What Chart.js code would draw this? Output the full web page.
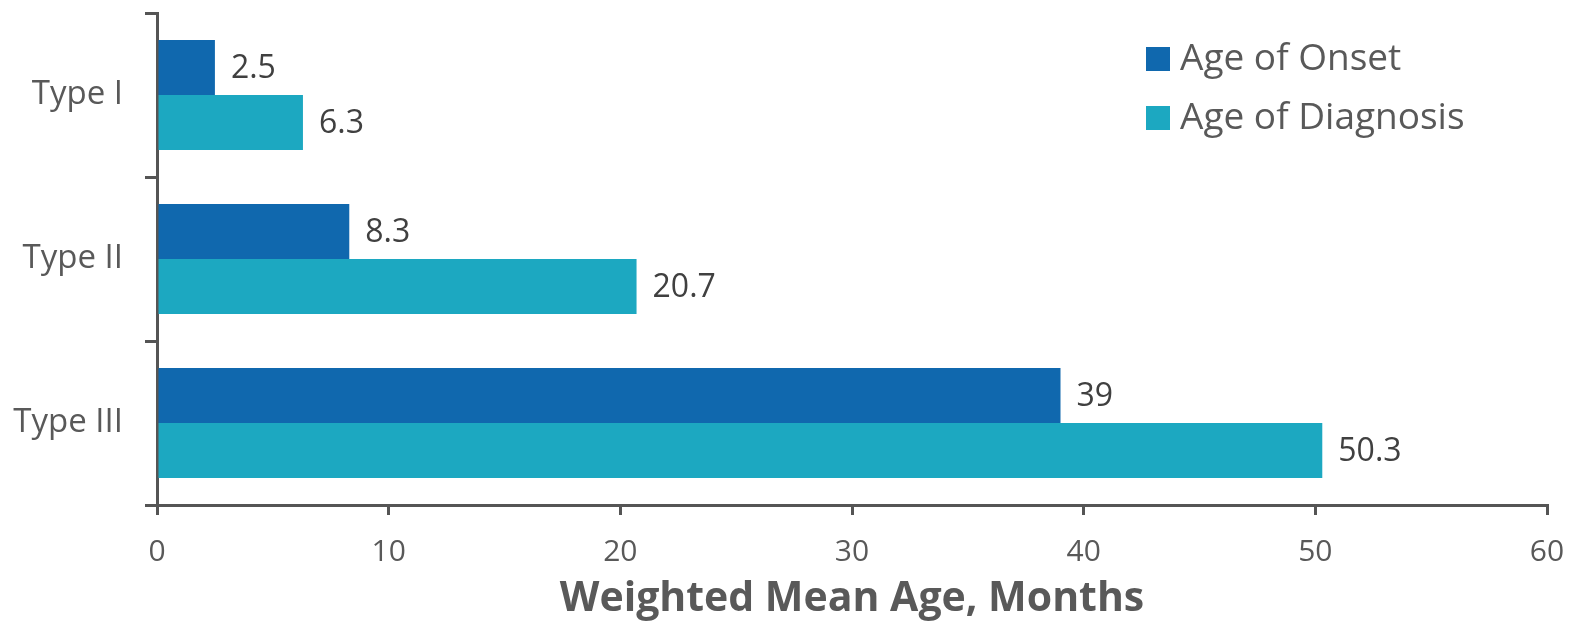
<!DOCTYPE html>
<html>
<head>
<meta charset="utf-8">
<script src="https://cdn.jsdelivr.net/npm/chart.js@4"></script>
<style>
    html, body { margin: 0; padding: 0; background: #fff; }
    #wrap { width: 1570px; height: 622px; }
</style>
</head>
<body>
<div id="wrap"><canvas id="ageChart" width="1570" height="622"></canvas></div>
<script>
const categories = ['Type I', 'Type II', 'Type III'];
const seriesNames = ['Age of Onset', 'Age of Diagnosis'];
const onsetAges = [2.5, 8.3, 39];
const diagnosisAges = [6.3, 20.7, 50.3];
const xTicks = [0, 10, 20, 30, 40, 50, 60];
const axisTitle = 'Weighted Mean Age, Months';

const axisColor = '#555555';
const textColor = '#595959';
const fontFamily = '"Open Sans", "Liberation Sans", sans-serif';

// no extra room for half labels, the layout padding handles it
function noEdgePadding(scale) {
    scale.paddingTop = 0;
    scale.paddingBottom = 0;
    scale.paddingLeft = 0;
    scale.paddingRight = 0;
}

// value labels at the end of each bar
const barLabels = {
    id: 'barLabels',
    afterDatasetsDraw(chart) {
        const ctx = chart.ctx;
        ctx.save();
        ctx.font = '32px ' + fontFamily;
        ctx.fillStyle = '#404040';
        ctx.textAlign = 'left';
        ctx.textBaseline = 'middle';
        chart.data.datasets.forEach((ds, i) => {
            chart.getDatasetMeta(i).data.forEach((bar, j) => {
                ctx.fillText(String(ds.data[j]), bar.x + 16, bar.y + 1);
            });
        });
        ctx.restore();
    }
};

// legend in the top right corner of the plot
const cornerLegend = {
    id: 'cornerLegend',
    afterDraw(chart) {
        const ctx = chart.ctx;
        ctx.save();
        ctx.font = '37px ' + fontFamily;
        ctx.textBaseline = 'middle';
        ctx.textAlign = 'left';
        chart.data.datasets.forEach((ds, i) => {
            const y = 59 + i * 59;
            ctx.fillStyle = ds.backgroundColor;
            ctx.fillRect(1146, y - 12, 24, 24);
            ctx.fillStyle = textColor;
            ctx.fillText(ds.label, 1180, y);
        });
        ctx.restore();
    }
};

const ctx = document.getElementById('ageChart').getContext('2d');
new Chart(ctx, {
    type: 'bar',
    data: {
        labels: categories,
        datasets: [{
            label: seriesNames[0],
            data: onsetAges,
            backgroundColor: '#1068ae'
        }, {
            label: seriesNames[1],
            data: diagnosisAges,
            backgroundColor: '#1ca8c1'
        }]
    },
    options: {
        indexAxis: 'y',
        responsive: false,
        animation: false,
        categoryPercentage: 0.67,
        barPercentage: 1.0,
        layout: {
            padding: { top: 13, right: 23, left: 0, bottom: 0 }
        },
        plugins: {
            legend: { display: false },
            tooltip: { enabled: false }
        },
        scales: {
            x: {
                min: 0,
                max: 60,
                afterFit(scale) {
                    scale.height = 117;
                    noEdgePadding(scale);
                },
                afterBuildTicks(scale) { scale.ticks = xTicks.map(v => ({ value: v })); },
                grid: {
                    drawOnChartArea: false,
                    color: axisColor,
                    lineWidth: 3,
                    tickLength: 10
                },
                border: { color: axisColor, width: 3 },
                ticks: {
                    color: textColor,
                    padding: 19,
                    font: { family: fontFamily, size: 30 }
                },
                title: {
                    display: true,
                    text: axisTitle,
                    color: textColor,
                    padding: { top: 0, bottom: -2 },
                    font: { family: fontFamily, size: 41, weight: 'bold', lineHeight: 1.2 }
                }
            },
            y: {
                afterFit(scale) {
                    scale.width = 157;
                    noEdgePadding(scale);
                },
                grid: {
                    drawOnChartArea: false,
                    offset: true,
                    color: axisColor,
                    lineWidth: 3,
                    tickLength: 12
                },
                border: { color: axisColor, width: 3 },
                ticks: {
                    color: textColor,
                    padding: 22,
                    font: { family: fontFamily, size: 33 }
                }
            }
        }
    },
    plugins: [barLabels, cornerLegend]
});
</script>
</body>
</html>
